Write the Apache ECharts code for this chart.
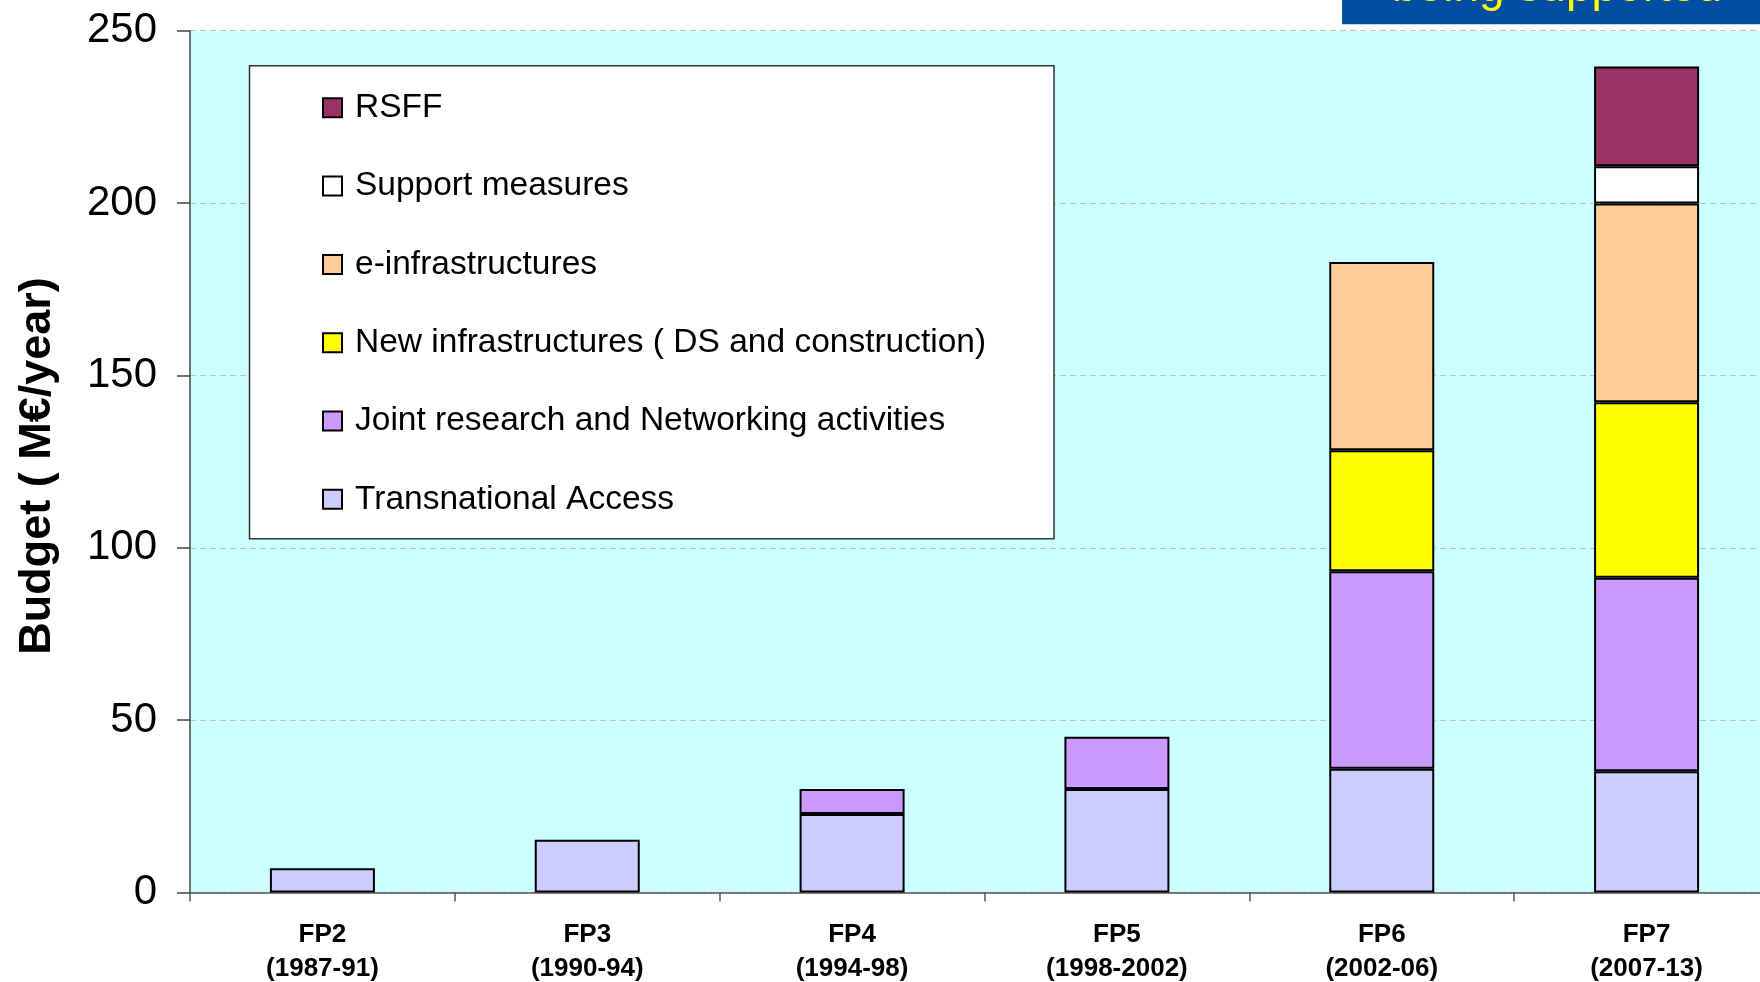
<!DOCTYPE html>
<html>
<head>
<meta charset="utf-8">
<script src="https://cdn.jsdelivr.net/npm/echarts@6/dist/echarts.min.js"></script>
<style>
html,body{margin:0;padding:0;background:#fff;}
#c{width:1760px;height:982px;}
</style>
</head>
<body>
<div id="c"></div>
<script>
var categories = ['FP2\n(1987-91)', 'FP3\n(1990-94)', 'FP4\n(1994-98)', 'FP5\n(1998-2002)', 'FP6\n(2002-06)', 'FP7\n(2007-13)'];
var transnationalAccess = [7, 15.3, 22.8, 30, 35.9, 35.2];
var jointResearch = [null, null, 7.2, 15.2, 57.3, 56.1];
var newInfra = [null, null, null, null, 35.1, 50.9];
var eInfra = [null, null, null, null, 54.6, 57.7];
var supportMeasures = [null, null, null, null, null, 10.8];
var rsff = [null, null, null, null, null, 28.9];
var yTicks = [0, 50, 100, 150, 200, 250];

var FONT = "'Liberation Sans', Arial, sans-serif";
var names = ['Transnational Access', 'Joint research and Networking activities', 'New infrastructures ( DS and construction)', 'e-infrastructures', 'Support measures', 'RSFF'];
var colors = ['#CCCCFF', '#CC99FF', '#FFFF00', '#FFCC99', '#FFFFFF', '#993366'];
var datas = [transnationalAccess, jointResearch, newInfra, eInfra, supportMeasures, rsff];

var series = names.map(function (n, i) {
  return {
    name: n,
    type: 'bar',
    stack: 'total',
    barWidth: 105,
    data: datas[i],
    itemStyle: { color: colors[i], borderColor: '#000', borderWidth: 2 },
    emphasis: { disabled: true },
    z: 2
  };
});

var chart = echarts.init(document.getElementById('c'), null, { renderer: 'canvas' });
chart.setOption({
  animation: false,
  backgroundColor: '#ffffff',
  grid: {
    left: 190, top: 30.7, bottom: 89.5, right: -19,
    outerBoundsMode: 'none',
    show: true, backgroundColor: '#CCFFFF', borderWidth: 0,
    containLabel: false
  },
  legend: {
    orient: 'vertical',
    left: 322, top: 90.8,
    padding: 0,
    z: 10,
    itemWidth: 19, itemHeight: 19,
    itemGap: 44.3,
    icon: 'rect',
    selectedMode: false,
    data: ['RSFF', 'Support measures', 'e-infrastructures', 'New infrastructures ( DS and construction)', 'Joint research and Networking activities', 'Transnational Access'],
    textStyle: { fontFamily: FONT, fontSize: 33.5, color: '#000', lineHeight: 34, padding: [0, 0, 0, 8] }
  },
  xAxis: {
    type: 'category',
    data: categories,
    axisLine: { show: true, lineStyle: { color: '#555', width: 1.5 } },
    axisTick: { show: true, length: 9, lineStyle: { color: '#555', width: 1.5 } },
    axisLabel: { margin: 25, fontFamily: FONT, fontWeight: 'bold', fontSize: 26, lineHeight: 34, color: '#000', interval: 0 },
    splitLine: { show: false }
  },
  yAxis: {
    type: 'value',
    min: 0, max: 250, interval: 50,
    axisLine: { show: true, lineStyle: { color: '#444', width: 1.5 } },
    axisTick: { show: true, length: 13, lineStyle: { color: '#444', width: 1.5 } },
    axisLabel: {
      margin: 33, fontFamily: FONT, fontSize: 42, color: '#000',
      formatter: function (v) { return yTicks.indexOf(v) >= 0 ? String(v) : ''; }
    },
    splitLine: { show: true, lineStyle: { color: '#C0C0C0', type: [6, 4], width: 1.2 } }
  },
  graphic: [
    {
      type: 'rect', z: 5,
      shape: { x: 249.5, y: 65.7, width: 804.5, height: 473 },
      style: { fill: '#ffffff', stroke: '#333', lineWidth: 1.5 }
    },
    {
      type: 'rect', z: 5,
      shape: { x: 1342, y: 0, width: 418, height: 24.3 },
      style: { fill: '#034EA2' }
    },
    {
      type: 'text', z: 6,
      x: 1557, y: -12,
      style: { text: 'being supported', fill: '#FFFF00', font: '46px ' + FONT, align: 'center', verticalAlign: 'middle' }
    },
    {
      type: 'text', z: 6,
      x: 38, y: 466,
      rotation: Math.PI / 2,
      style: { text: 'Budget ( M€/year)', fill: '#000', font: 'bold 45px ' + FONT, align: 'center', verticalAlign: 'middle' }
    }
  ],
  series: series
});
</script>
</body>
</html>
